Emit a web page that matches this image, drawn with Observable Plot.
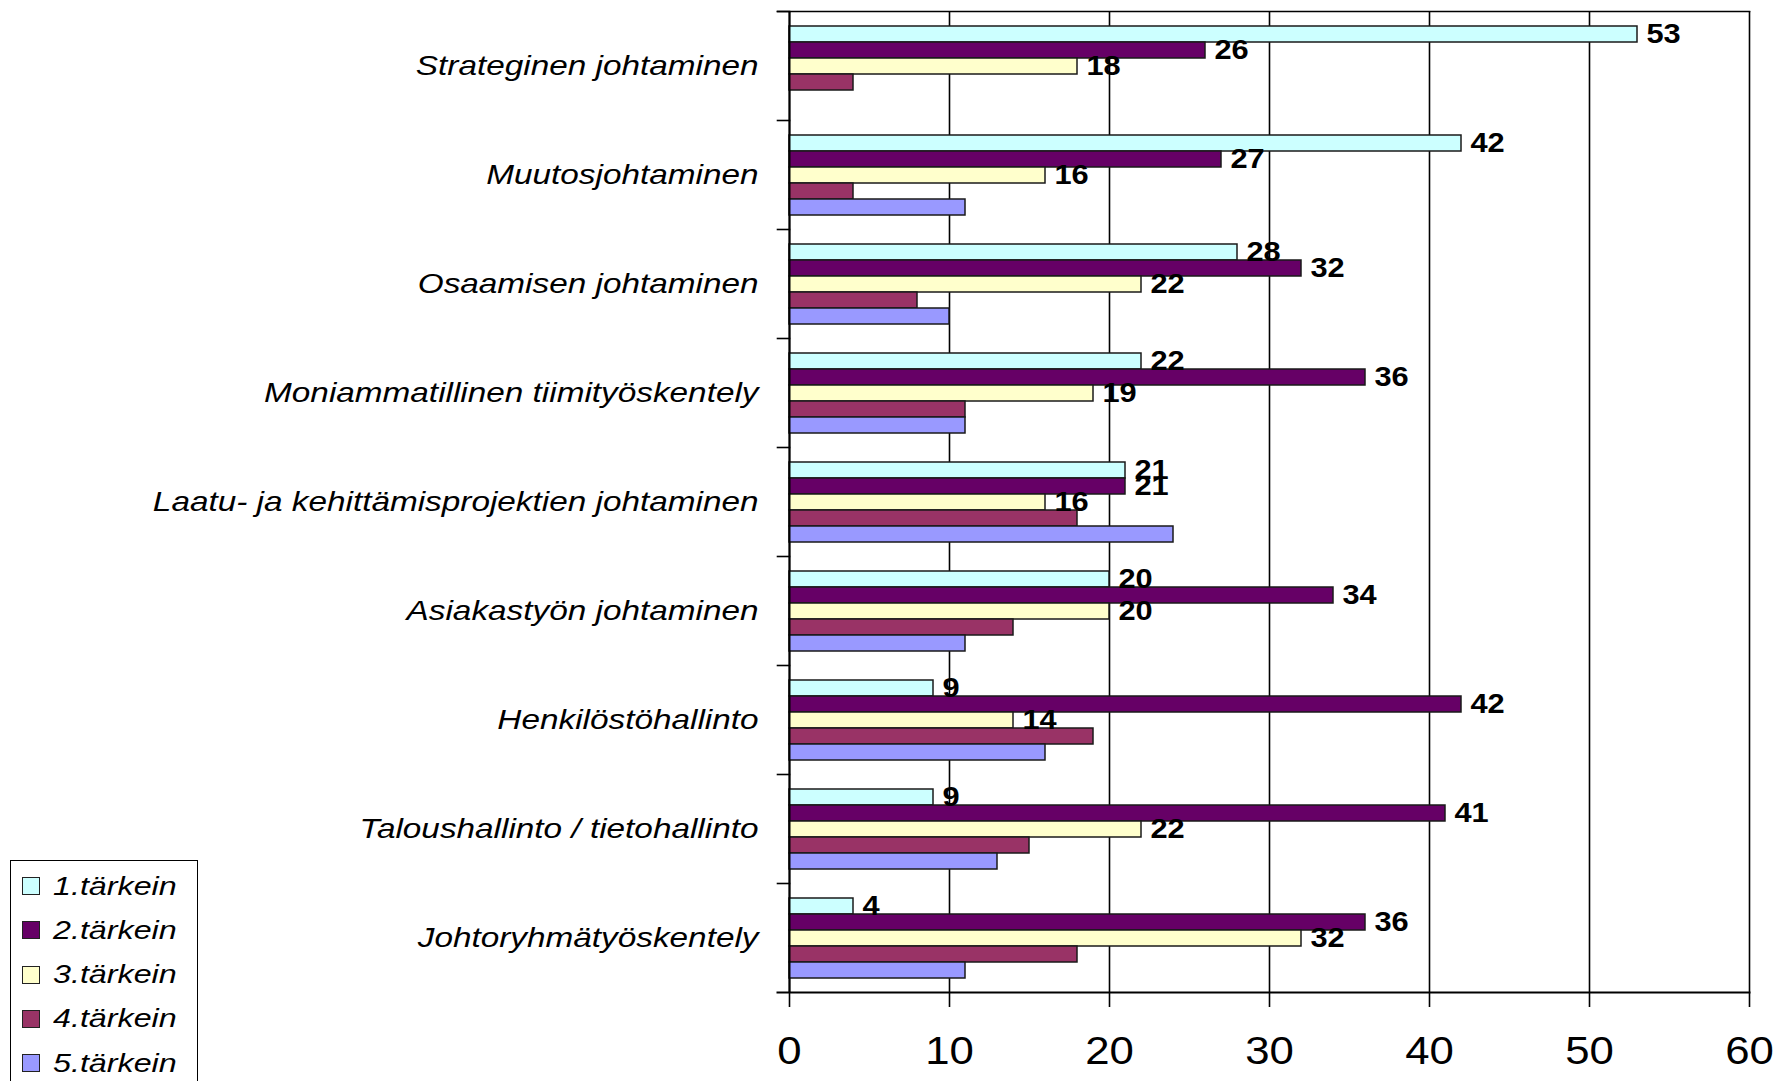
<!DOCTYPE html>
<html><head><meta charset="utf-8">
<script src="https://cdn.jsdelivr.net/npm/d3@7"></script>
<script src="https://cdn.jsdelivr.net/npm/@observablehq/plot@0.6"></script>
<style>
html,body{margin:0;padding:0;background:#fff;overflow:hidden;width:1776px;height:1081px}
#chart{position:absolute;left:0;top:0}
#legend{position:absolute;left:10px;top:860px;width:188px;height:270px;border:1.6px solid #000;box-sizing:border-box;background:#fff;font-family:"Liberation Sans",Arial,sans-serif;font-style:italic;font-size:26px;color:#000}
.item{position:absolute;left:11px;height:44px;display:flex;align-items:center}
.sw{width:16px;height:16px;border:1.5px solid #222;margin-right:13px;flex:none}
.lab{display:inline-block;transform-origin:left center;transform:scaleX(1.24);white-space:nowrap}
</style></head><body>
<div id="chart"></div><div id="legend"></div>
<script>
const categories = [
  "Strateginen johtaminen",
  "Muutosjohtaminen",
  "Osaamisen johtaminen",
  "Moniammatillinen tiimityöskentely",
  "Laatu- ja kehittämisprojektien johtaminen",
  "Asiakastyön johtaminen",
  "Henkilöstöhallinto",
  "Taloushallinto / tietohallinto",
  "Johtoryhmätyöskentely"
];
const series = ["1.tärkein", "2.tärkein", "3.tärkein", "4.tärkein", "5.tärkein"];
const colors = ["#CCFFFF", "#660066", "#FFFFCC", "#993366", "#9999FF"];
const s1 = [53, 42, 28, 22, 21, 20, 9, 9, 4];
const s2 = [26, 27, 32, 36, 21, 34, 42, 41, 36];
const s3 = [18, 16, 22, 19, 16, 20, 14, 22, 32];
const s4 = [4, 4, 8, 11, 18, 14, 19, 15, 18];
const s5 = [0, 11, 10, 11, 24, 11, 16, 13, 11];
const xTicks = [0, 10, 20, 30, 40, 50, 60];
const labelledSeries = ["1.tärkein", "2.tärkein", "3.tärkein"];

const seriesValues = [s1, s2, s3, s4, s5];
const rows = categories.flatMap((c, i) => series.map((s, j) => ({category: c, series: s, value: seriesValues[j][i]})));

const W = 1776, H = 1081, mL = 789, mR = 27, mT = 10, mB = 88;
const plotW = W - mL - mR;
const tickLen = 12;
const lineW = 1.6;

const chart = Plot.plot({
  width: W, height: H,
  marginLeft: mL, marginRight: mR, marginTop: mT, marginBottom: mB,
  style: {fontFamily: '"Liberation Sans", Arial, sans-serif', background: "white", color: "black", overflow: "visible"},
  x: {domain: [0, 60]},
  y: {domain: series, paddingInner: 0, paddingOuter: 0.78, axis: null},
  fy: {domain: categories, padding: 0},
  color: {domain: series, range: colors},
  marks: [
    Plot.gridX(xTicks, {stroke: "black", strokeOpacity: 1, strokeWidth: lineW}),
    Plot.frame({anchor: "top", stroke: "black", strokeWidth: lineW, insetLeft: -tickLen, insetRight: plotW}),
    Plot.frame({anchor: "top", fy: () => categories[0], stroke: "black", strokeWidth: lineW, insetLeft: -tickLen}),
    Plot.frame({anchor: "bottom", fy: () => categories[categories.length - 1], stroke: "black", strokeWidth: 2, insetLeft: -tickLen}),
    Plot.barX(rows.filter(d => d.value > 0), {fy: "category", y: "series", x: "value", fill: "series", stroke: "#1a1a1a", strokeWidth: 1.5}),
    Plot.ruleX([0], {stroke: "black", strokeWidth: 2}),
    Plot.text(rows.filter(d => labelledSeries.includes(d.series)), {
      fy: "category", y: "series", x: "value", text: d => String(d.value),
      textAnchor: "start", dx: 9, fontWeight: "bold", fontSize: 27, fill: "black"
    }),
    Plot.axisX({ticks: xTicks, anchor: "bottom", tickSize: 15, tickPadding: 30, fontSize: 38, stroke: "black", strokeWidth: lineW, label: null}),
    Plot.axisFy({anchor: "left", tickSize: 0, tickPadding: 31, fontSize: 28, fontStyle: "italic", label: null})
  ]
});
document.getElementById("chart").appendChild(chart);

// The reference is horizontally stretched: widen glyphs of text labels
function stretch(sel, k) {
  for (const t of chart.querySelectorAll(sel)) {
    const L = t.getComputedTextLength();
    if (L > 0) { t.setAttribute("textLength", L * k); t.setAttribute("lengthAdjust", "spacingAndGlyphs"); }
  }
}
stretch('g[aria-label="fy-axis tick label"] text', 1.19);
stretch('g[aria-label="x-axis tick label"] text', 1.15);
stretch('g[aria-label="text"] text', 1.14);

// Legend
const legend = document.getElementById("legend");
series.forEach((s, i) => {
  const it = document.createElement("div");
  it.className = "item";
  it.style.top = (3 + i * 44.3) + "px";
  const sw = document.createElement("span");
  sw.className = "sw"; sw.style.background = colors[i];
  const lb = document.createElement("span");
  lb.className = "lab"; lb.textContent = s;
  it.appendChild(sw); it.appendChild(lb);
  legend.appendChild(it);
});
</script>
</body></html>
